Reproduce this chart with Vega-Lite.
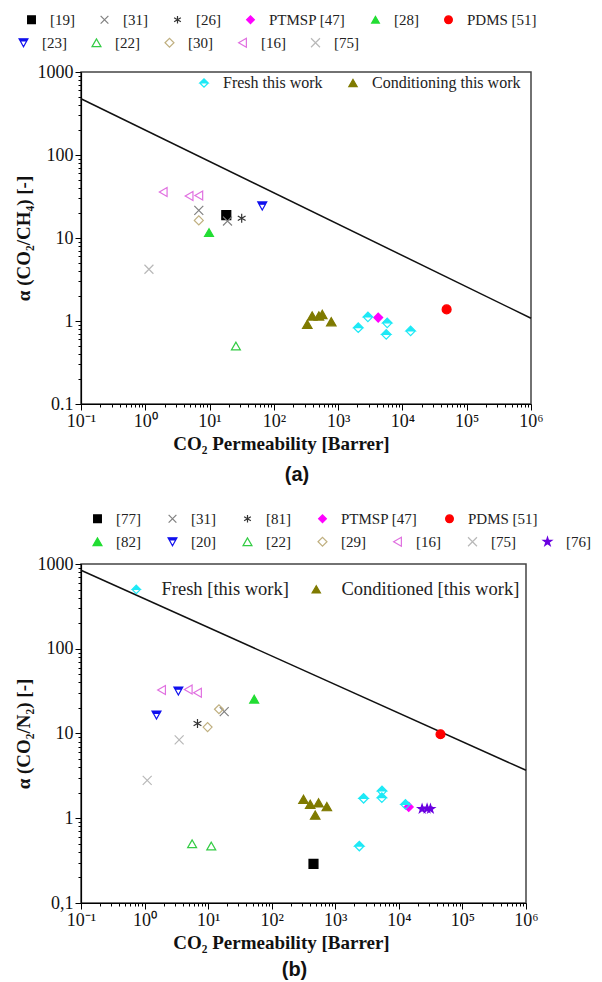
{
  "$schema": "https://vega.github.io/schema/vega-lite/v6.json",
  "background": "white",
  "padding": {"left": 13, "top": 11, "right": 5, "bottom": 5},
  "config": {
    "view": {"stroke": "#444444", "strokeWidth": 1.5},
    "axis": {"grid": false, "domainColor": "#000000", "domainWidth": 1.2, "tickColor": "#000000", "tickWidth": 1, "labelFont": "Liberation Serif", "labelFontSize": 18, "labelColor": "#111111", "labelOverlap": false, "labelFlush": false, "labelPadding": 2, "titleFont": "Liberation Serif", "titleFontSize": 19, "titleFontWeight": "bold", "titleColor": "#111111"},
    "legend": {"labelFont": "Liberation Serif", "labelFontSize": 15, "labelColor": "#222222", "symbolOpacity": 1, "labelLimit": 300}
  },
  "datasets": {
    "a_line": [{"P": 0.1, "a": 476}, {"P": 1000000, "a": 1.08}],
    "a_r1": [
      {"ref": "[19]", "P": 18.2, "a": 18.9},
      {"ref": "[31]", "P": 6.8, "a": 21.5},
      {"ref": "[31]", "P": 19, "a": 16},
      {"ref": "[26]", "P": 31.6, "a": 17.3},
      {"ref": "PTMSP [47]", "P": 4200, "a": 1.1},
      {"ref": "[28]", "P": 9.8, "a": 11.6},
      {"ref": "PDMS [51]", "P": 48700, "a": 1.38}
    ],
    "a_r2": [
      {"ref": "[23]", "P": 66, "a": 24.3},
      {"ref": "[22]", "P": 25.7, "a": 0.5},
      {"ref": "[30]", "P": 6.8, "a": 16.3},
      {"ref": "[16]", "P": 1.9, "a": 35.8},
      {"ref": "[16]", "P": 4.8, "a": 32},
      {"ref": "[16]", "P": 6.8, "a": 32.5},
      {"ref": "[75]", "P": 1.14, "a": 4.2}
    ],
    "a_tw": [
      {"s": "Fresh this work", "P": 2055, "a": 0.83},
      {"s": "Fresh this work", "P": 2905, "a": 1.12},
      {"s": "Fresh this work", "P": 5800, "a": 0.95},
      {"s": "Fresh this work", "P": 5600, "a": 0.69},
      {"s": "Fresh this work", "P": 13400, "a": 0.76},
      {"s": "Conditioning this work", "P": 331, "a": 0.91},
      {"s": "Conditioning this work", "P": 395, "a": 1.15},
      {"s": "Conditioning this work", "P": 502, "a": 1.15},
      {"s": "Conditioning this work", "P": 566, "a": 1.2},
      {"s": "Conditioning this work", "P": 782, "a": 0.98}
    ],
    "b_line": [{"P": 0.1, "a": 843}, {"P": 1000000, "a": 3.68}],
    "b_r1": [
      {"ref": "[77]", "P": 454, "a": 0.29},
      {"ref": "[31]", "P": 17.9, "a": 18.1},
      {"ref": "[81]", "P": 6.8, "a": 13.1},
      {"ref": "PTMSP [47]", "P": 14300, "a": 1.36},
      {"ref": "PDMS [51]", "P": 45200, "a": 9.8}
    ],
    "b_r2": [
      {"ref": "[82]", "P": 53, "a": 25.4},
      {"ref": "[20]", "P": 3.4, "a": 31.7},
      {"ref": "[20]", "P": 1.54, "a": 16.5},
      {"ref": "[22]", "P": 5.6, "a": 0.5},
      {"ref": "[22]", "P": 11.2, "a": 0.47},
      {"ref": "[29]", "P": 14.8, "a": 19.3},
      {"ref": "[29]", "P": 9.8, "a": 11.9},
      {"ref": "[16]", "P": 1.85, "a": 32.6},
      {"ref": "[16]", "P": 4.86, "a": 33},
      {"ref": "[16]", "P": 6.8, "a": 30.3},
      {"ref": "[75]", "P": 3.5, "a": 8.4},
      {"ref": "[75]", "P": 1.1, "a": 2.8},
      {"ref": "[76]", "P": 23200, "a": 1.29},
      {"ref": "[76]", "P": 27800, "a": 1.3},
      {"ref": "[76]", "P": 31400, "a": 1.29}
    ],
    "b_tw": [
      {"s": "Fresh [this work]", "P": 2790, "a": 1.72},
      {"s": "Fresh [this work]", "P": 5430, "a": 2.1},
      {"s": "Fresh [this work]", "P": 5400, "a": 1.75},
      {"s": "Fresh [this work]", "P": 12700, "a": 1.46},
      {"s": "Fresh [this work]", "P": 2390, "a": 0.47},
      {"s": "Conditioned [this work]", "P": 316, "a": 1.67},
      {"s": "Conditioned [this work]", "P": 403, "a": 1.46},
      {"s": "Conditioned [this work]", "P": 545, "a": 1.52},
      {"s": "Conditioned [this work]", "P": 736, "a": 1.37},
      {"s": "Conditioned [this work]", "P": 483, "a": 1.09}
    ]
  },
  "vconcat": [
    {
      "width": 450,
      "height": 332,
      "title": {"text": "(a)", "orient": "bottom", "font": "Liberation Sans", "fontSize": 20, "fontWeight": "bold", "color": "#111111", "offset": 12, "dx": -9},
      "encoding": {
        "x": {"field": "P", "type": "quantitative", "scale": {"type": "log", "domain": [0.1, 1000000], "nice": false},
          "axis": {"title": "CO₂ Permeability [Barrer]", "titleX": 200, "titlePadding": 4, "labelFont": "Liberation Serif", "labelFontSize": 18,
            "values": [0.1,0.2,0.3,0.4,0.5,0.6,0.7,0.8,0.9,1,2,3,4,5,6,7,8,9,10,20,30,40,50,60,70,80,90,100,200,300,400,500,600,700,800,900,1000,2000,3000,4000,5000,6000,7000,8000,9000,10000,20000,30000,40000,50000,60000,70000,80000,90000,100000,200000,300000,400000,500000,600000,700000,800000,900000,1000000],
            "labelExpr": "abs(log(datum.value)/LN10 - round(log(datum.value)/LN10)) < 0.001 ? '10' + ['⁻¹','⁰','¹','²','³','⁴','⁵','⁶'][round(log(datum.value)/LN10)+1] : ''",
            "tickSize": {"condition": {"test": "abs(log(datum.value)/LN10 - round(log(datum.value)/LN10)) < 0.001", "value": 6}, "value": 3}}},
        "y": {"field": "a", "type": "quantitative", "scale": {"type": "log", "domain": [0.1, 1000], "nice": false},
          "axis": {"title": "α (CO₂/CH₄) [-]", "titlePadding": 4, "labelFont": "Liberation Serif", "labelFontSize": 18,
            "values": [0.1,0.2,0.3,0.4,0.5,0.6,0.7,0.8,0.9,1,2,3,4,5,6,7,8,9,10,20,30,40,50,60,70,80,90,100,200,300,400,500,600,700,800,900,1000],
            "labelExpr": "abs(log(datum.value)/LN10 - round(log(datum.value)/LN10)) < 0.001 ? (datum.value < 0.5 ? '0.1' : format(datum.value, 'd')) : ''",
            "tickSize": {"condition": {"test": "abs(log(datum.value)/LN10 - round(log(datum.value)/LN10)) < 0.001", "value": 6}, "value": 3}}}
      },
      "layer": [
        {
          "data": {"name": "a_line"},
          "mark": {"type": "line", "color": "#111111", "strokeWidth": 1.5}
        },
        {
          "data": {"name": "a_r1"},
          "mark": {"type": "point", "filled": true, "opacity": 1, "size": 80, "strokeWidth": 1.2},
          "encoding": {
            "shape": {"field": "ref", "type": "nominal", "scale": {"domain": ["[19]", "[31]", "[26]", "PTMSP [47]", "[28]", "PDMS [51]"], "range": ["square", "M-1,-1L1,1M-1,1L1,-1", "M0,-1L0,1M-0.87,-0.5L0.87,0.5M-0.87,0.5L0.87,-0.5", "diamond", "triangle-up", "circle"]},
              "legend": {"orient": "none", "legendX": -57, "legendY": -60, "direction": "horizontal", "title": null, "labelOffset": 11, "columnPadding": 22, "symbolSize": 60, "symbolStrokeWidth": 1.2}},
            "fill": {"field": "ref", "type": "nominal", "scale": {"domain": ["[19]", "[31]", "[26]", "PTMSP [47]", "[28]", "PDMS [51]"], "range": ["#000000", "transparent", "transparent", "#ff00ff", "#22dd33", "#ff0000"]},
              "legend": {"orient": "none", "legendX": -57, "legendY": -60, "direction": "horizontal", "title": null, "labelOffset": 11, "columnPadding": 22, "symbolSize": 60, "symbolStrokeWidth": 1.2}},
            "stroke": {"field": "ref", "type": "nominal", "scale": {"domain": ["[19]", "[31]", "[26]", "PTMSP [47]", "[28]", "PDMS [51]"], "range": ["#000000", "#808080", "#333333", "#ff00ff", "#22dd33", "#ff0000"]},
              "legend": {"orient": "none", "legendX": -57, "legendY": -60, "direction": "horizontal", "title": null, "labelOffset": 11, "columnPadding": 22, "symbolSize": 60, "symbolStrokeWidth": 1.2}}
          }
        },
        {
          "data": {"name": "a_r2"},
          "mark": {"type": "point", "filled": true, "opacity": 1, "size": 80, "strokeWidth": 1.2},
          "encoding": {
            "shape": {"field": "ref", "type": "nominal", "scale": {"domain": ["[23]", "[22]", "[30]", "[16]", "[75]"], "range": ["M-1,-0.9L1,-0.9L0.72,-0.4L-0.72,-0.4ZM-0.72,-0.4L0,0.9L0.72,-0.4L0,0.9Z", "triangle-up", "diamond", "triangle-left", "M-1,-1L1,1M-1,1L1,-1"]},
              "legend": {"orient": "none", "legendX": -65, "legendY": -37, "direction": "horizontal", "title": null, "labelOffset": 11, "columnPadding": 22, "symbolSize": 60, "symbolStrokeWidth": 1.2}},
            "fill": {"field": "ref", "type": "nominal", "scale": {"domain": ["[23]", "[22]", "[30]", "[16]", "[75]"], "range": ["#1010ee", "transparent", "transparent", "transparent", "transparent"]},
              "legend": {"orient": "none", "legendX": -65, "legendY": -37, "direction": "horizontal", "title": null, "labelOffset": 11, "columnPadding": 22, "symbolSize": 60, "symbolStrokeWidth": 1.2}},
            "stroke": {"field": "ref", "type": "nominal", "scale": {"domain": ["[23]", "[22]", "[30]", "[16]", "[75]"], "range": ["#1010ee", "#33cc44", "#c0b080", "#e070e0", "#b8b8b8"]},
              "legend": {"orient": "none", "legendX": -65, "legendY": -37, "direction": "horizontal", "title": null, "labelOffset": 11, "columnPadding": 22, "symbolSize": 60, "symbolStrokeWidth": 1.2}},
            "size": {"field": "ref", "type": "nominal", "scale": {"domain": ["[23]", "[22]", "[30]", "[16]", "[75]"], "range": [80, 80, 80, 80, 200]},
              "legend": {"orient": "none", "legendX": -65, "legendY": -37, "direction": "horizontal", "title": null, "labelOffset": 11, "columnPadding": 22, "symbolStrokeWidth": 1.2}}
          }
        },
        {
          "data": {"name": "a_tw"},
          "mark": {"type": "point", "filled": true, "opacity": 1, "size": 90, "strokeWidth": 1.2},
          "encoding": {
            "shape": {"field": "s", "type": "nominal", "scale": {"domain": ["Fresh this work", "Conditioning this work"], "range": ["M-1,0L0,-1L1,0ZM-1,0L0,1L1,0L0,1Z", "triangle-up"]},
              "legend": {"orient": "none", "legendX": 115, "legendY": 3, "direction": "horizontal", "title": null, "labelFontSize": 16, "labelOffset": 11, "columnPadding": 22, "symbolSize": 70, "symbolStrokeWidth": 1.2}},
            "fill": {"field": "s", "type": "nominal", "scale": {"domain": ["Fresh this work", "Conditioning this work"], "range": ["#1de9f6", "#7f7a00"]},
              "legend": {"orient": "none", "legendX": 115, "legendY": 3, "direction": "horizontal", "title": null, "labelFontSize": 16, "labelOffset": 11, "columnPadding": 22, "symbolSize": 70, "symbolStrokeWidth": 1.2}},
            "stroke": {"field": "s", "type": "nominal", "scale": {"domain": ["Fresh this work", "Conditioning this work"], "range": ["#1de9f6", "#7f7a00"]},
              "legend": {"orient": "none", "legendX": 115, "legendY": 3, "direction": "horizontal", "title": null, "labelFontSize": 16, "labelOffset": 11, "columnPadding": 22, "symbolSize": 70, "symbolStrokeWidth": 1.2}}
          }
        }
      ],
      "resolve": {"scale": {"shape": "independent", "fill": "independent", "stroke": "independent", "size": "independent"}}
    },
    {
      "width": 445,
      "height": 339,
      "title": {"text": "(b)", "orient": "bottom", "font": "Liberation Sans", "fontSize": 20, "fontWeight": "bold", "color": "#111111", "offset": 8, "dx": -9},
      "encoding": {
        "x": {"field": "P", "type": "quantitative", "scale": {"type": "log", "domain": [0.1, 1000000], "nice": false},
          "axis": {"title": "CO₂ Permeability [Barrer]", "titleX": 200, "titlePadding": 4, "labelFont": "Liberation Serif", "labelFontSize": 18,
            "values": [0.1,0.2,0.3,0.4,0.5,0.6,0.7,0.8,0.9,1,2,3,4,5,6,7,8,9,10,20,30,40,50,60,70,80,90,100,200,300,400,500,600,700,800,900,1000,2000,3000,4000,5000,6000,7000,8000,9000,10000,20000,30000,40000,50000,60000,70000,80000,90000,100000,200000,300000,400000,500000,600000,700000,800000,900000,1000000],
            "labelExpr": "abs(log(datum.value)/LN10 - round(log(datum.value)/LN10)) < 0.001 ? '10' + ['⁻¹','⁰','¹','²','³','⁴','⁵','⁶'][round(log(datum.value)/LN10)+1] : ''",
            "tickSize": {"condition": {"test": "abs(log(datum.value)/LN10 - round(log(datum.value)/LN10)) < 0.001", "value": 6}, "value": 3}}},
        "y": {"field": "a", "type": "quantitative", "scale": {"type": "log", "domain": [0.1, 1000], "nice": false},
          "axis": {"title": "α (CO₂/N₂) [-]", "titlePadding": 4, "labelFont": "Liberation Serif", "labelFontSize": 18,
            "values": [0.1,0.2,0.3,0.4,0.5,0.6,0.7,0.8,0.9,1,2,3,4,5,6,7,8,9,10,20,30,40,50,60,70,80,90,100,200,300,400,500,600,700,800,900,1000],
            "labelExpr": "abs(log(datum.value)/LN10 - round(log(datum.value)/LN10)) < 0.001 ? (datum.value < 0.5 ? '0,1' : format(datum.value, 'd')) : ''",
            "tickSize": {"condition": {"test": "abs(log(datum.value)/LN10 - round(log(datum.value)/LN10)) < 0.001", "value": 6}, "value": 3}}}
      },
      "layer": [
        {
          "data": {"name": "b_line"},
          "mark": {"type": "line", "color": "#111111", "strokeWidth": 1.5}
        },
        {
          "data": {"name": "b_r1"},
          "mark": {"type": "point", "filled": true, "opacity": 1, "size": 80, "strokeWidth": 1.2},
          "encoding": {
            "shape": {"field": "ref", "type": "nominal", "scale": {"domain": ["[77]", "[31]", "[81]", "PTMSP [47]", "PDMS [51]"], "range": ["square", "M-1,-1L1,1M-1,1L1,-1", "M0,-1L0,1M-0.87,-0.5L0.87,0.5M-0.87,0.5L0.87,-0.5", "diamond", "circle"]},
              "legend": {"orient": "none", "legendX": 9, "legendY": -53, "direction": "horizontal", "title": null, "labelOffset": 11, "columnPadding": 24, "symbolSize": 60, "symbolStrokeWidth": 1.2}},
            "fill": {"field": "ref", "type": "nominal", "scale": {"domain": ["[77]", "[31]", "[81]", "PTMSP [47]", "PDMS [51]"], "range": ["#000000", "transparent", "transparent", "#ff00ff", "#ff0000"]},
              "legend": {"orient": "none", "legendX": 9, "legendY": -53, "direction": "horizontal", "title": null, "labelOffset": 11, "columnPadding": 24, "symbolSize": 60, "symbolStrokeWidth": 1.2}},
            "stroke": {"field": "ref", "type": "nominal", "scale": {"domain": ["[77]", "[31]", "[81]", "PTMSP [47]", "PDMS [51]"], "range": ["#000000", "#808080", "#333333", "#ff00ff", "#ff0000"]},
              "legend": {"orient": "none", "legendX": 9, "legendY": -53, "direction": "horizontal", "title": null, "labelOffset": 11, "columnPadding": 24, "symbolSize": 60, "symbolStrokeWidth": 1.2}}
          }
        },
        {
          "data": {"name": "b_r2"},
          "mark": {"type": "point", "filled": true, "opacity": 1, "size": 80, "strokeWidth": 1.2},
          "encoding": {
            "shape": {"field": "ref", "type": "nominal", "scale": {"domain": ["[82]", "[20]", "[22]", "[29]", "[16]", "[75]", "[76]"], "range": ["triangle-up", "M-1,-0.9L1,-0.9L0.72,-0.4L-0.72,-0.4ZM-0.72,-0.4L0,0.9L0.72,-0.4L0,0.9Z", "triangle-up", "diamond", "triangle-left", "M-1,-1L1,1M-1,1L1,-1", "M0,-1L0.2245,-0.309L0.951,-0.309L0.363,0.118L0.588,0.809L0,0.382L-0.588,0.809L-0.363,0.118L-0.951,-0.309L-0.2245,-0.309Z"]},
              "legend": {"orient": "none", "legendX": 9, "legendY": -30, "direction": "horizontal", "title": null, "labelOffset": 11, "columnPadding": 24, "symbolSize": 60, "symbolStrokeWidth": 1.2}},
            "fill": {"field": "ref", "type": "nominal", "scale": {"domain": ["[82]", "[20]", "[22]", "[29]", "[16]", "[75]", "[76]"], "range": ["#22dd33", "#1010ee", "transparent", "transparent", "transparent", "transparent", "#6a00e0"]},
              "legend": {"orient": "none", "legendX": 9, "legendY": -30, "direction": "horizontal", "title": null, "labelOffset": 11, "columnPadding": 24, "symbolSize": 60, "symbolStrokeWidth": 1.2}},
            "stroke": {"field": "ref", "type": "nominal", "scale": {"domain": ["[82]", "[20]", "[22]", "[29]", "[16]", "[75]", "[76]"], "range": ["#22dd33", "#1010ee", "#33cc44", "#c0b080", "#e070e0", "#b8b8b8", "#6a00e0"]},
              "legend": {"orient": "none", "legendX": 9, "legendY": -30, "direction": "horizontal", "title": null, "labelOffset": 11, "columnPadding": 24, "symbolSize": 60, "symbolStrokeWidth": 1.2}},
            "size": {"field": "ref", "type": "nominal", "scale": {"domain": ["[82]", "[20]", "[22]", "[29]", "[16]", "[75]", "[76]"], "range": [80, 80, 80, 80, 80, 200, 90]},
              "legend": {"orient": "none", "legendX": 9, "legendY": -30, "direction": "horizontal", "title": null, "labelOffset": 11, "columnPadding": 24, "symbolStrokeWidth": 1.2}}
          }
        },
        {
          "data": {"name": "b_tw"},
          "mark": {"type": "point", "filled": true, "opacity": 1, "size": 90, "strokeWidth": 1.2},
          "encoding": {
            "shape": {"field": "s", "type": "nominal", "scale": {"domain": ["Fresh [this work]", "Conditioned [this work]"], "range": ["M-1,0L0,-1L1,0ZM-1,0L0,1L1,0L0,1Z", "triangle-up"]},
              "legend": {"orient": "none", "legendX": 46, "legendY": 16, "direction": "horizontal", "title": null, "labelFontSize": 18.5, "labelOffset": 16, "columnPadding": 18, "symbolSize": 70, "symbolStrokeWidth": 1.2}},
            "fill": {"field": "s", "type": "nominal", "scale": {"domain": ["Fresh [this work]", "Conditioned [this work]"], "range": ["#1de9f6", "#7f7a00"]},
              "legend": {"orient": "none", "legendX": 46, "legendY": 16, "direction": "horizontal", "title": null, "labelFontSize": 18.5, "labelOffset": 16, "columnPadding": 18, "symbolSize": 70, "symbolStrokeWidth": 1.2}},
            "stroke": {"field": "s", "type": "nominal", "scale": {"domain": ["Fresh [this work]", "Conditioned [this work]"], "range": ["#1de9f6", "#7f7a00"]},
              "legend": {"orient": "none", "legendX": 46, "legendY": 16, "direction": "horizontal", "title": null, "labelFontSize": 18.5, "labelOffset": 16, "columnPadding": 18, "symbolSize": 70, "symbolStrokeWidth": 1.2}}
          }
        }
      ],
      "resolve": {"scale": {"shape": "independent", "fill": "independent", "stroke": "independent", "size": "independent"}}
    }
  ],
  "bounds": "flush",
  "spacing": 160
}
